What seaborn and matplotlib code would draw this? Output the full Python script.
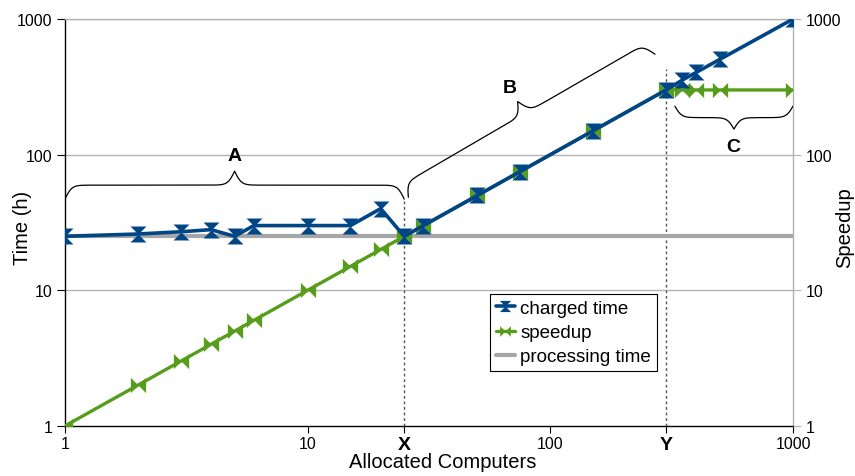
import numpy as np
import matplotlib.pyplot as plt
import seaborn as sns
from matplotlib.path import Path

# data
computers = [1, 2, 3, 4, 5, 6, 10, 15, 20, 25, 30, 50, 75, 150, 300, 350, 400, 500, 1000]
charged_time = [25, 26, 27, 28, 25, 30, 30, 30, 40, 25, 30, 50, 75, 150, 300, 355, 405, 505, 1000]
speedup = [1, 2, 3, 4, 5, 6, 10, 15, 20, 25, 30, 50, 75, 150, 300, 300, 300, 300, 300]
processing_x = [1, 1000]
processing_time = [25, 25]

x_ticks = [1, 10, 25, 100, 300, 1000]
x_tick_labels = ['1', '10', 'X', '100', 'Y', '1000']
y_ticks = [1, 10, 100, 1000]

marker_x = 25      # point X
marker_y = 300     # point Y

BLUE = '#004586'
GREEN = '#579d1c'
GRAY = '#a6a6a6'

sns.set_theme(style="white")
plt.rcParams['font.family'] = ['Liberation Sans', 'DejaVu Sans']
plt.rcParams.update({'text.color': 'black', 'axes.labelcolor': 'black',
                     'xtick.color': 'black', 'ytick.color': 'black'})

hourglass = Path([(-1, 1), (1, 1), (0, 0), (1, -1), (-1, -1), (0, 0), (-1, 1)],
                 [Path.MOVETO] + [Path.LINETO] * 5 + [Path.CLOSEPOLY])
bowtie = Path([(-1, 1), (0, 0), (1, 1), (1, -1), (0, 0), (-1, -1), (-1, 1)],
              [Path.MOVETO] + [Path.LINETO] * 5 + [Path.CLOSEPOLY])

W, H = 855, 477
fig = plt.figure(figsize=(W / 100, H / 100), dpi=100)
ax = fig.add_axes([0.076, 0.105, 0.8515, 0.853])
ax.set_xscale('log')
ax.set_yscale('log')
ax.set_xlim(1, 1000)
ax.set_ylim(1, 1000)

for v in [10, 100, 1000]:
    ax.axhline(v, color='#b3b3b3', lw=1, zorder=0)

sns.lineplot(x=processing_x, y=processing_time, ax=ax, color=GRAY, lw=3,
             label='processing time', zorder=2)
sns.lineplot(x=computers, y=speedup, ax=ax, color=GREEN, lw=2.4,
             marker=bowtie, markersize=11, markeredgewidth=0,
             label='speedup', zorder=3)
sns.lineplot(x=computers, y=charged_time, ax=ax, color=BLUE, lw=2.6,
             marker=hourglass, markersize=11.5, markeredgewidth=0,
             label='charged time', zorder=4)

# dotted guides at X and Y
ax.plot([marker_x, marker_x], [1, 47], ls=(0, (2, 2)), color='#555555', lw=1, zorder=1)
ax.plot([marker_y, marker_y], [1, 430], ls=(0, (2, 2)), color='#555555', lw=1, zorder=1)


def brace(p0, p1, amp=28, beta=0.3):
    """curly brace between two data points, tip on the left-hand normal"""
    a = ax.transData.transform(p0)
    b = ax.transData.transform(p1)
    d = b - a
    L = np.hypot(*d)
    u = d / L
    n = np.array([-u[1], u[0]])
    t = np.linspace(0, L, 401)
    half = t[:201]
    h = 1 / (1 + np.exp(-beta * (half - half[0]))) + 1 / (1 + np.exp(-beta * (half - half[-1])))
    h = np.concatenate([h, h[-2::-1]]) - 0.5
    pts = a + np.outer(t, u) + np.outer(h * amp, n)
    data = ax.transData.inverted().transform(pts)
    ax.plot(data[:, 0], data[:, 1], color='black', lw=0.9, zorder=5)


brace((1, 47), (25, 47), amp=28)
brace((26, 48.5), (270, 550), amp=28)
brace((1000, 228), (326, 228), amp=23)

ax.text(5, 98, 'A', fontsize=14, fontweight='bold', ha='center', va='center')
ax.text(68, 315, 'B', fontsize=14, fontweight='bold', ha='center', va='center')
ax.text(565, 114, 'C', fontsize=14, fontweight='bold', ha='center', va='center')

ax.set_xticks(x_ticks)
ax.set_xticklabels(x_tick_labels)
ax.minorticks_off()
for lbl in ax.get_xticklabels():
    if lbl.get_text() in ('X', 'Y'):
        lbl.set_fontweight('bold')
        lbl.set_fontsize(14)
    else:
        lbl.set_fontsize(11.5)
ax.set_yticks(y_ticks)
ax.set_yticklabels([str(v) for v in y_ticks], fontsize=11.5)
ax.tick_params(axis='x', bottom=True, length=5, width=0.8, color='black', pad=2)
ax.tick_params(axis='y', left=True, length=6, width=0.8, color='black', pad=3)

for side in ['left', 'bottom']:
    ax.spines[side].set_color('black')
    ax.spines[side].set_linewidth(1)
for side in ['top', 'right']:
    ax.spines[side].set_color('#b3b3b3')
    ax.spines[side].set_linewidth(1)

ax2 = ax.twinx()
ax2.set_yscale('log')
ax2.set_ylim(1, 1000)
ax2.set_yticks(y_ticks)
ax2.set_yticklabels([str(v) for v in y_ticks], fontsize=11.5)
ax2.minorticks_off()
ax2.tick_params(axis='y', right=True, length=6, width=0.8, color='#b3b3b3',
                labelcolor='black', pad=3)
for s in ax2.spines.values():
    s.set_visible(False)

# axis titles placed where the reference has them
fig.text(443 / W, 1 - 463 / H, 'Allocated Computers', fontsize=14.5, ha='center', va='center')
fig.text(22 / W, 1 - 228 / H, 'Time (h)', fontsize=14.5, rotation=90, ha='center', va='center')
fig.text(845 / W, 1 - 228 / H, 'Speedup', fontsize=14.5, rotation=90, ha='center', va='center')

handles, labels = ax.get_legend_handles_labels()
order = [labels.index(k) for k in ['charged time', 'speedup', 'processing time']]
leg = ax.legend([handles[i] for i in order], [labels[i] for i in order],
                loc='upper left', bbox_to_anchor=(0.584, 0.324), borderaxespad=0,
                fontsize=13.5, frameon=True, fancybox=False, edgecolor='black',
                framealpha=1, handlelength=1.0, handletextpad=0.3, borderpad=0.3,
                labelspacing=0.38, markerscale=0.7)
leg.get_frame().set_linewidth(0.8)

fig.savefig('out.png', dpi=100)
